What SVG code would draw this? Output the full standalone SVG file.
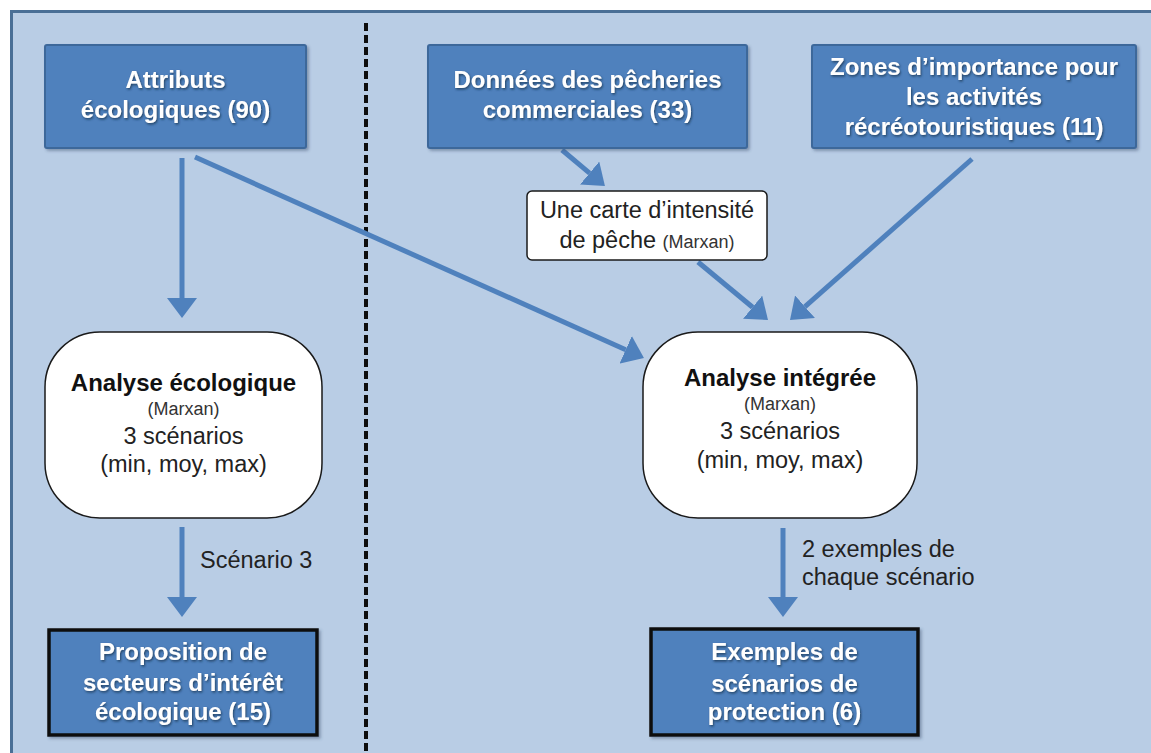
<svg xmlns="http://www.w3.org/2000/svg" width="1151" height="753" viewBox="0 0 1151 753">
<defs>
<style>
.blue{fill:#4f81bd;stroke:#3c679a;stroke-width:2}
.blueb{fill:#4f81bd;stroke:#0d0d0d;stroke-width:3.5}
.wt{font-family:"Liberation Sans",Arial,sans-serif;font-size:24px;font-weight:bold;fill:#ffffff;text-anchor:middle;filter:url(#ts)}
.oval{fill:#ffffff;stroke:#1a1a1a;stroke-width:1.5}
.bt{font-family:"Liberation Sans",Arial,sans-serif;font-size:24px;font-weight:bold;fill:#111111;text-anchor:middle}
.nt{font-family:"Liberation Sans",Arial,sans-serif;font-size:23.5px;fill:#222222;text-anchor:middle}
.st{font-family:"Liberation Sans",Arial,sans-serif;font-size:18px;fill:#333333}
.lbl{font-family:"Liberation Sans",Arial,sans-serif;font-size:23.5px;fill:#222222}
.conn{stroke:#4f81bd;stroke-width:5;fill:none;marker-end:url(#ah)}
</style>
<filter id="ts" x="-10%" y="-20%" width="120%" height="150%">
<feDropShadow dx="1" dy="1.5" stdDeviation="0.8" flood-color="#1f3550" flood-opacity="0.8"/>
</filter>
<filter id="bs" x="-5%" y="-5%" width="115%" height="120%">
<feDropShadow dx="2" dy="2" stdDeviation="1.5" flood-color="#3a5070" flood-opacity="0.45"/>
</filter>
<marker id="ah" viewBox="0 0 20 30" refX="0" refY="15" markerWidth="20" markerHeight="30" markerUnits="userSpaceOnUse" orient="auto">
<path d="M0,0 L20,15 L0,30 Z" fill="#4f81bd"/>
</marker>
</defs>
<rect x="0" y="0" width="1151" height="753" fill="#ffffff"/>
<rect id="frame" x="11.5" y="11.5" width="1150" height="760" fill="#b9cde5" stroke="#4a6f96" stroke-width="3"/>
<line id="divider" x1="366" y1="23" x2="366" y2="753" stroke="#0d0d0d" stroke-width="4" stroke-dasharray="8,4"/>

<g id="connectors">
<line class="conn" x1="182" y1="158" x2="182" y2="298"/>
<line class="conn" x1="195" y1="157" x2="625.7" y2="349.8"/>
<line class="conn" x1="562" y1="150" x2="589.6" y2="173.1"/>
<line class="conn" x1="698" y1="262" x2="752.6" y2="307.2"/>
<line class="conn" x1="972" y1="159" x2="805" y2="306.7"/>
<line class="conn" x1="182" y1="527" x2="182" y2="597"/>
<line class="conn" x1="783" y1="528" x2="783" y2="597"/>
<text class="lbl" x="200" y="568">Scénario 3</text>
<text class="lbl" x="802" y="557">2 exemples de</text>
<text class="lbl" x="802" y="585">chaque scénario</text>
</g>

<g id="attributs">
<rect class="blue" x="45" y="45" width="261" height="103" rx="2" filter="url(#bs)"/>
<text class="wt" x="175.5" y="88">Attributs</text>
<text class="wt" x="175.5" y="118">écologiques (90)</text>
</g>

<g id="peches">
<rect class="blue" x="428" y="45" width="319" height="103" rx="2" filter="url(#bs)"/>
<text class="wt" x="587.5" y="88">Données des pêcheries</text>
<text class="wt" x="587.5" y="118">commerciales (33)</text>
</g>

<g id="zones">
<rect class="blue" x="812" y="45" width="324" height="103" rx="2" filter="url(#bs)"/>
<text class="wt" x="974" y="75">Zones d’importance pour</text>
<text class="wt" x="974" y="105">les activités</text>
<text class="wt" x="974" y="135">récréotouristiques (11)</text>
</g>

<g id="carte">
<rect x="527" y="191" width="240" height="69" rx="5" fill="#ffffff" stroke="#1a1a1a" stroke-width="1.5"/>
<text class="nt" x="647" y="218">Une carte d’intensité</text>
<text class="nt" x="647" y="248">de pêche <tspan class="st">(Marxan)</tspan></text>
</g>

<g id="analyse-eco">
<rect class="oval" x="45" y="332" width="277" height="186" rx="55" ry="55"/>
<text class="bt" x="183.5" y="391">Analyse écologique</text>
<text class="st" x="183.5" y="415" text-anchor="middle">(Marxan)</text>
<text class="nt" x="183.5" y="444">3 scénarios</text>
<text class="nt" x="183.5" y="472">(min, moy, max)</text>
</g>

<g id="analyse-int">
<rect class="oval" x="643" y="332" width="274" height="186" rx="55" ry="55"/>
<text class="bt" x="780" y="386">Analyse intégrée</text>
<text class="st" x="780" y="410" text-anchor="middle">(Marxan)</text>
<text class="nt" x="780" y="439">3 scénarios</text>
<text class="nt" x="780" y="468">(min, moy, max)</text>
</g>

<g id="proposition">
<rect class="blueb" x="49" y="630" width="268" height="105" filter="url(#bs)"/>
<text class="wt" x="183" y="660">Proposition de</text>
<text class="wt" x="183" y="691">secteurs d’intérêt</text>
<text class="wt" x="183" y="720">écologique (15)</text>
</g>

<g id="exemples">
<rect class="blueb" x="651" y="629" width="267" height="106" filter="url(#bs)"/>
<text class="wt" x="784.5" y="660">Exemples de</text>
<text class="wt" x="784.5" y="692">scénarios de</text>
<text class="wt" x="784.5" y="720">protection (6)</text>
</g>
</svg>
